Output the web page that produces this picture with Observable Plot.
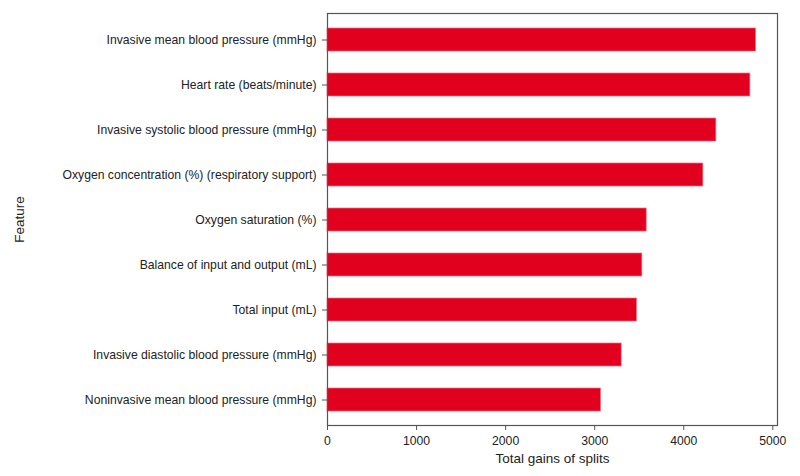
<!DOCTYPE html>
<html>
<head>
<meta charset="utf-8">
<script src="https://cdn.jsdelivr.net/npm/d3@7"></script>
<script src="https://cdn.jsdelivr.net/npm/@observablehq/plot@0.6"></script>
<style>
  html, body { margin: 0; padding: 0; background: #fff; }
  #chart svg { font-family: "Liberation Sans", Arial, sans-serif; }
</style>
</head>
<body>
<div id="chart"></div>
<script>
const features = [
  "Invasive mean blood pressure (mmHg)",
  "Heart rate (beats/minute)",
  "Invasive systolic blood pressure (mmHg)",
  "Oxygen concentration (%) (respiratory support)",
  "Oxygen saturation (%)",
  "Balance of input and output (mL)",
  "Total input (mL)",
  "Invasive diastolic blood pressure (mmHg)",
  "Noninvasive mean blood pressure (mmHg)"
];
const gains = [4812, 4748, 4366, 4220, 3584, 3535, 3475, 3303, 3071];
const xTicks = [0, 1000, 2000, 3000, 4000, 5000];

const data = features.map((f, i) => ({feature: f, gain: gains[i]}));

const chart = Plot.plot({
  width: 800,
  height: 476,
  marginLeft: 327,
  marginRight: 23,
  marginTop: 13,
  marginBottom: 51,
  style: {fontFamily: "Liberation Sans, Arial, sans-serif", fontSize: "12px", color: "#222"},
  x: {domain: [0, 4812 * 1.05]},
  y: {domain: features, paddingInner: 0.5, paddingOuter: 0.25},
  marks: [
    Plot.barX(data, {x: "gain", y: "feature", fill: "#e1001e", stroke: "#f2707e", strokeWidth: 0.7}),
    Plot.frame({stroke: "#555", strokeWidth: 1.2}),
    Plot.axisX({ticks: xTicks, tickFormat: d => String(d), tickSize: 5, tickPadding: 6,
      label: null, fontSize: 12.2, stroke: "#555"}),
    Plot.axisX({ticks: [], label: "Total gains of splits", labelAnchor: "center", labelArrow: "none",
      labelOffset: 37, fontSize: 13.5}),
    Plot.axisY({tickSize: 5, tickPadding: 6, label: null, fontSize: 12.2, stroke: "#555"}),
    Plot.axisY({ticks: [], label: "Feature", labelAnchor: "center", labelArrow: "none",
      labelOffset: 313, fontSize: 13.5})
  ]
});
document.getElementById("chart").append(chart);
</script>
</body>
</html>
